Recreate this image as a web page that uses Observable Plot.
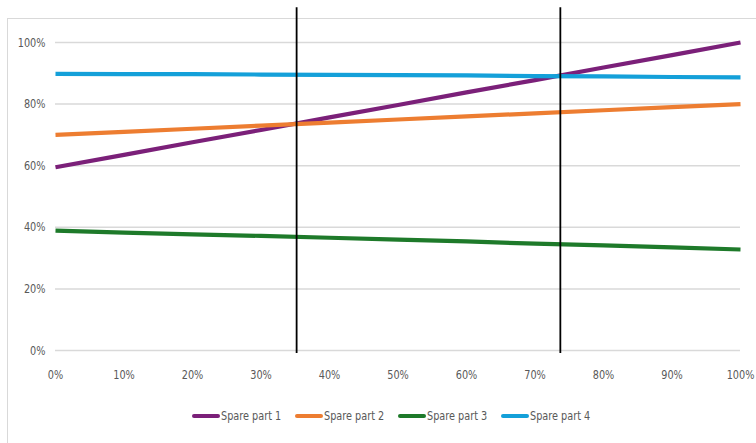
<!DOCTYPE html>
<html>
<head>
<meta charset="utf-8">
<script src="https://cdn.jsdelivr.net/npm/d3@7"></script>
<script src="https://cdn.jsdelivr.net/npm/@observablehq/plot@0.6"></script>
<style>
  html, body { margin: 0; padding: 0; background: #fff; }
  body { width: 756px; height: 443px; position: relative; overflow: hidden;
         font-family: "Liberation Sans Narrow", "DejaVu Sans Condensed", "Liberation Sans", sans-serif; }
  #frame { position: absolute; left: 7px; top: 18px; width: 800px; height: 500px;
           border: 1.5px solid #d9d9d9; box-sizing: border-box; }
  #chart { position: absolute; left: 0; top: 0; }
  #legend { position: absolute; top: 408px; left: 192px; display: flex; font-size: 13px; color: #595959; }
  .item { display: flex; align-items: center; width: 103px; white-space: nowrap; }
  .sw { width: 28px; height: 4px; margin-right: 1px; border-radius: 2px; flex: none; }
  .lt { display: inline-block; transform: scaleX(0.83); transform-origin: left center; }
</style>
</head>
<body>
<div id="frame"></div>
<div id="chart"></div>
<div id="legend"></div>
<script>
// x categories (percent)
const xValues = [0, 10, 20, 30, 40, 50, 60, 70, 80, 90, 100];
const seriesNames = ["Spare part 1", "Spare part 2", "Spare part 3", "Spare part 4"];
const seriesColors = ["#7b2079", "#ed7d31", "#1e7a2a", "#14a0d9"];
const spare1 = [59.5, 63.5, 67.6, 71.6, 75.7, 79.7, 83.8, 87.8, 91.9, 95.9, 100];
const spare2 = [70, 71, 72, 73, 74, 75, 76, 77, 78, 79, 80];
const spare3 = [38.9, 38.3, 37.7, 37.2, 36.6, 36.0, 35.4, 34.7, 34.1, 33.5, 32.8];
const spare4 = [89.8, 89.7, 89.7, 89.6, 89.5, 89.4, 89.3, 89.1, 89.0, 88.8, 88.7];
const markerX = [35.2, 73.7];
const xTicks = [0, 10, 20, 30, 40, 50, 60, 70, 80, 90, 100];
const yTicks = [0, 20, 40, 60, 80, 100];

const allSeries = [spare1, spare2, spare3, spare4];
const data = [];
seriesNames.forEach((name, i) => {
  xValues.forEach((x, j) => data.push({series: name, x, y: allSeries[i][j]}));
});

const chart = Plot.plot({
  width: 756,
  height: 380,
  marginLeft: 55,
  marginRight: 16,
  marginTop: 42,
  marginBottom: 30,
  style: { fontFamily: '"Liberation Sans Narrow", "DejaVu Sans Condensed", sans-serif', fontSize: "13px", color: "#595959", background: "transparent", overflow: "visible" },
  x: { domain: [0, 100], ticks: xTicks, tickFormat: d => d + "%", tickSize: 0, tickPadding: 19, label: null },
  y: { domain: [0, 100], ticks: yTicks, tickFormat: d => d + "%", tickSize: 0, tickPadding: 10, label: null },
  color: { domain: seriesNames, range: seriesColors },
  marks: [
    Plot.gridY(yTicks, { stroke: "#d9d9d9", strokeOpacity: 1, strokeWidth: 1.5 }),
    Plot.axisX({ ticks: xTicks, tickFormat: d => d + "%", tickSize: 0, tickPadding: 19, label: null, fill: "#595959" }),
    Plot.axisY({ ticks: yTicks, tickFormat: d => d + "%", tickSize: 0, tickPadding: 10, label: null, fill: "#595959" }),
    Plot.line(data, { x: "x", y: "y", z: "series", stroke: "series", strokeWidth: 4.2, strokeLinecap: "butt", strokeLinejoin: "round" }),
    Plot.ruleX(markerX, { y1: -1, y2: 111.3, stroke: "#000", strokeWidth: 1.8 })
  ]
});
document.getElementById("chart").appendChild(chart);

// condense the tick labels to mimic a narrow font
chart.querySelectorAll("text").forEach(t => {
  const w = t.getComputedTextLength();
  if (w > 0) {
    t.setAttribute("textLength", (w * 0.83).toFixed(2));
    t.setAttribute("lengthAdjust", "spacingAndGlyphs");
  }
});

const legend = document.getElementById("legend");
seriesNames.forEach((name, i) => {
  const item = document.createElement("div");
  item.className = "item";
  const sw = document.createElement("div");
  sw.className = "sw";
  sw.style.background = seriesColors[i];
  const t = document.createElement("span");
  t.className = "lt";
  t.textContent = name;
  item.appendChild(sw);
  item.appendChild(t);
  legend.appendChild(item);
});
</script>
</body>
</html>
